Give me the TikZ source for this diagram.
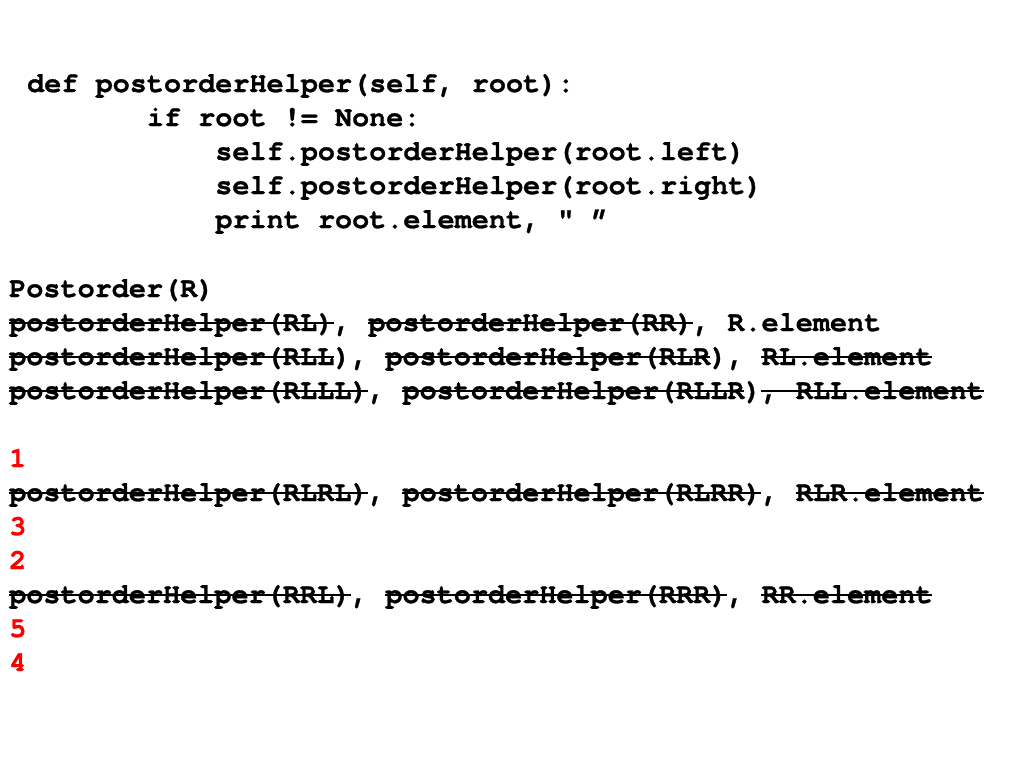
\documentclass[tikz,border=0pt]{standalone}
\usepackage{fontspec}
\setmonofont{TeX Gyre Cursor}[BoldFeatures={FakeBold=1}]
\usepackage{tikz}
\usetikzlibrary{calc}

\newcommand\chw{17.1}

\begin{document}
\begin{tikzpicture}[x=1pt,y=-1pt,
    code/.style={anchor=base west,inner sep=0pt,font=\fontsize{28.5}{34}\selectfont\ttfamily\bfseries},
    num/.style={code,text=red},
    strike/.style={line width=1.6pt,black}]

    \useasboundingbox[fill=white] (0,0) rectangle (1024,768);

    % the helper
    \node[code] (def) at (27,92) {def postorderHelper(self, root):};
    \node[code] (ifln) at (146.7,126) {if root != None:};
    \node[code] (left) at (215.1,160) {self.postorderHelper(root.left)};
    \node[code] (right) at (215.1,194) {self.postorderHelper(root.right)};
    \node[code] (prt) at (215.1,228) {print root.element, " ”};

    % the trace
    \node[code] (post) at (9,297) {Postorder(R)};
    \node[code] (r1) at (9,331) {postorderHelper(RL), postorderHelper(RR), R.element};
    \node[code] (r2) at (9,365) {postorderHelper(RLL), postorderHelper(RLR), RL.element};
    \node[code] (r3) at (9,399) {postorderHelper(RLLL), postorderHelper(RLLR), RLL.element};
    \node[num] (n1) at (9,467) {1};
    \node[code] (r4) at (9,501) {postorderHelper(RLRL), postorderHelper(RLRR), RLR.element};
    \node[num] (n3) at (9,535) {3};
    \node[num] (n2) at (9,569) {2};
    \node[code] (r5) at (9,603) {postorderHelper(RRL), postorderHelper(RRR), RR.element};
    \node[num] (n5) at (9,637) {5};
    \node[num] (n4) at (9,671) {4};

    % crossed out calls
    \draw[strike, shift={(r1.base west)}] (0,-8) -- (19*\chw,-8) (21*\chw,-8) -- (40*\chw,-8);
    \draw[strike, shift={(r2.base west)}] (0,-8) -- (19*\chw,-8) (22*\chw,-8) -- (41*\chw,-8)
        (44*\chw,-8) -- (54*\chw,-8);
    \draw[strike, shift={(r3.base west)}] (0,-8) -- (21*\chw,-8) (23*\chw,-8) -- (43*\chw,-8)
        (44*\chw,-8) -- (57*\chw,-8);
    \draw[strike, shift={(r4.base west)}] (0,-8) -- (21*\chw,-8) (23*\chw,-8) -- (44*\chw,-8)
        (46*\chw,-8) -- (57*\chw,-8);
    \draw[strike, shift={(r5.base west)}] (0,-8) -- (20*\chw,-8) (22*\chw,-8) -- (42*\chw,-8)
        (44*\chw,-8) -- (54*\chw,-8);

\end{tikzpicture}
\end{document}
